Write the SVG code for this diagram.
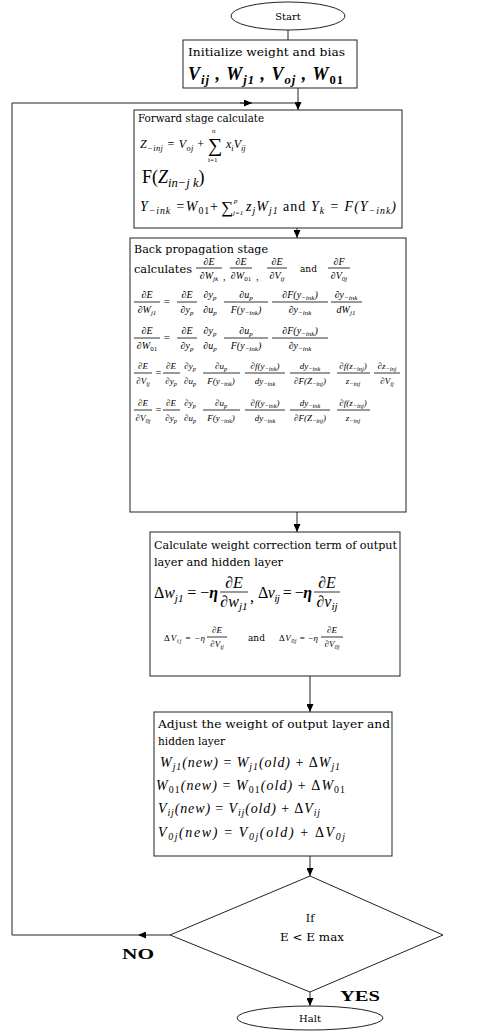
<svg xmlns="http://www.w3.org/2000/svg" width="480" height="1032" viewBox="0 0 480 1032">
<style>
.box{fill:#fff;stroke:#222;stroke-width:1}
.c{stroke:#222;stroke-width:1;fill:none}
.l{font-family:"DejaVu Serif","Liberation Serif",serif;font-size:11px;fill:#000}
.m{font-family:"Liberation Serif","Times New Roman",serif;font-style:italic;font-weight:normal;fill:#000}
.u{font-family:"Liberation Serif","Times New Roman",serif;fill:#000}
.s{font-size:70%}
.mc{text-anchor:middle}
.bar{stroke:#000;stroke-width:0.8}
.f10{font-size:10px}
.f9{font-size:9px}
.lab{font-family:"Liberation Serif","Times New Roman",serif;font-weight:bold;font-size:14px;fill:#000}
</style>
<defs>
<marker id="ah" viewBox="0 0 8 7" markerWidth="8" markerHeight="7" refX="8" refY="3.5" orient="auto" markerUnits="userSpaceOnUse">
<path d="M0,0 L8,3.5 L0,7 z" fill="#000"/>
</marker>
</defs>

<g id="connectors">
<line class="c" x1="288" y1="30" x2="288" y2="40"/>
<line class="c" x1="298" y1="88" x2="298" y2="110" marker-end="url(#ah)"/>
<line class="c" x1="297" y1="228" x2="297" y2="238" marker-end="url(#ah)"/>
<line class="c" x1="297" y1="512" x2="297" y2="532" marker-end="url(#ah)"/>
<line class="c" x1="310" y1="676" x2="310" y2="712" marker-end="url(#ah)"/>
<line class="c" x1="310" y1="856" x2="310" y2="876" marker-end="url(#ah)"/>
<line class="c" x1="310" y1="992" x2="310" y2="1006" marker-end="url(#ah)"/>
<line class="c" x1="170" y1="935" x2="138" y2="935" marker-end="url(#ah)"/>
<polyline class="c" points="138,935 12,935 12,103 252,103"/>
<line class="c" x1="240" y1="103" x2="252" y2="103" marker-end="url(#ah)"/>
<line class="c" x1="252" y1="103" x2="298" y2="103"/>
</g>

<g id="start">
<ellipse class="box" cx="288" cy="16" rx="57" ry="14"/>
<text class="l mc f10" x="288" y="20">Start</text>
</g>

<g id="init">
<rect class="box" x="183" y="40" width="174" height="48"/>
<text class="l" x="188" y="56" textLength="157" lengthAdjust="spacingAndGlyphs">Initialize weight and bias</text>
<text class="m" x="188" y="80" font-size="18" style="font-weight:bold" textLength="155" lengthAdjust="spacing">V<tspan class="s" dy="4">ij</tspan><tspan dy="-4"> , W</tspan><tspan class="s" dy="4">j1</tspan><tspan dy="-4"> , V</tspan><tspan class="s" dy="4">oj</tspan><tspan dy="-4"> , W</tspan><tspan class="s" dy="4" font-style="normal">01</tspan></text>
</g>

<g id="forward">
<rect class="box" x="134" y="110" width="268" height="118"/>
<text class="l" x="138" y="122" textLength="126" lengthAdjust="spacingAndGlyphs">Forward stage calculate</text>
<text class="m" x="140" y="148" font-size="12" textLength="64" lengthAdjust="spacing">Z<tspan class="s" dy="3">−inj</tspan><tspan dy="-3"> = V</tspan><tspan class="s" dy="3">oj</tspan><tspan dy="-3" font-style="normal"> +</tspan></text>
<text class="u" x="208" y="152" font-size="20">∑</text>
<text class="m" x="212" y="133" font-size="7">n</text>
<text class="u" x="208" y="162" font-size="7">i=1</text>
<text class="m" x="226" y="148" font-size="12">x<tspan class="s" dy="3">i</tspan><tspan dy="-3">V</tspan><tspan class="s" dy="3">ij</tspan></text>
<text class="m" x="142" y="183" font-size="18"><tspan font-style="normal">F(</tspan>Z<tspan class="s" dy="4">in−j k</tspan><tspan dy="-4" font-style="normal">)</tspan></text>
<text class="m" x="140" y="211" font-size="14" textLength="78" lengthAdjust="spacing">Y<tspan class="s" dy="3">−ink</tspan><tspan dy="-3"> =W</tspan><tspan class="s" dy="3" font-style="normal">01</tspan><tspan dy="-3" font-style="normal">+</tspan></text>
<text class="u" x="221" y="213" font-size="17">∑</text>
<text class="m" x="234" y="203" font-size="7">p</text>
<text class="m" x="233" y="215" font-size="7">j=1</text>
<text class="m" x="246" y="211" font-size="14" textLength="150" lengthAdjust="spacing">z<tspan class="s" dy="3">j</tspan><tspan dy="-3">W</tspan><tspan class="s" dy="3">j1</tspan><tspan dy="-3" font-style="normal"> and </tspan>Y<tspan class="s" dy="3">k</tspan><tspan dy="-3"> = F(Y</tspan><tspan class="s" dy="3">−ink</tspan><tspan dy="-3">)</tspan></text>
</g>

<g id="backprop">
<rect class="box" x="130" y="238" width="276" height="274"/>
<text class="l" x="134" y="253" textLength="134" lengthAdjust="spacingAndGlyphs">Back propagation stage</text>
<text class="l" x="134" y="273" textLength="58" lengthAdjust="spacingAndGlyphs">calculates</text>
<g class="m f10">
<text class="mc" x="209" y="265">∂E</text><line class="bar" x1="196" y1="268" x2="222" y2="268"/><text class="mc" x="209" y="279">∂W<tspan class="s" dy="2">jk</tspan></text>
<text x="223" y="280">,</text>
<text class="mc" x="241" y="265">∂E</text><line class="bar" x1="230" y1="268" x2="252" y2="268"/><text class="mc" x="241" y="279">∂W<tspan class="s" dy="2" font-style="normal">01</tspan></text>
<text x="256" y="280">,</text>
<text class="mc" x="277" y="265">∂E</text><line class="bar" x1="267" y1="268" x2="287" y2="268"/><text class="mc" x="277" y="279">∂V<tspan class="s" dy="2">ij</tspan></text>
<text class="mc" x="339" y="265">∂F</text><line class="bar" x1="328" y1="268" x2="350" y2="268"/><text class="mc" x="339" y="279">∂V<tspan class="s" dy="2">0j</tspan></text>
</g>
<text class="l f9" x="300" y="272">and</text>

<g class="m f10">
<text class="mc" x="147" y="298">∂E</text><line class="bar" x1="134" y1="302" x2="160" y2="302"/><text class="mc" x="147" y="313">∂W<tspan class="s" dy="2">j1</tspan></text>
<text class="u" x="163" y="305" font-size="11">=</text>
<text class="mc" x="187" y="298">∂E</text><line class="bar" x1="177" y1="302" x2="197" y2="302"/><text class="mc" x="187" y="313">∂y<tspan class="s" dy="2">p</tspan></text>
<text class="mc" x="210" y="298">∂y<tspan class="s" dy="2">p</tspan></text><text class="mc" x="210" y="313">∂u<tspan class="s" dy="2">p</tspan></text>
<text class="mc" x="246" y="298">∂u<tspan class="s" dy="2">p</tspan></text><line class="bar" x1="224" y1="302" x2="268" y2="302"/><text class="mc" x="246" y="313">F(y<tspan class="s" dy="2">−ink</tspan><tspan dy="-2">)</tspan></text>
<text class="mc" x="300" y="298">∂F(y<tspan class="s" dy="2">−ink</tspan><tspan dy="-2">)</tspan></text><line class="bar" x1="272" y1="302" x2="328" y2="302"/><text class="mc" x="300" y="313">∂y<tspan class="s" dy="2">−ink</tspan></text>
<text class="mc" x="346" y="298">∂y<tspan class="s" dy="2">−ink</tspan></text><line class="bar" x1="331" y1="302" x2="362" y2="302"/><text class="mc" x="346" y="313">dW<tspan class="s" dy="2">j1</tspan></text>
</g>

<g class="m f10">
<text class="mc" x="147" y="334">∂E</text><line class="bar" x1="134" y1="338" x2="160" y2="338"/><text class="mc" x="147" y="349">∂W<tspan class="s" dy="2" font-style="normal">01</tspan></text>
<text class="u" x="163" y="341" font-size="11">=</text>
<text class="mc" x="187" y="334">∂E</text><line class="bar" x1="177" y1="338" x2="197" y2="338"/><text class="mc" x="187" y="349">∂y<tspan class="s" dy="2">p</tspan></text>
<text class="mc" x="210" y="334">∂y<tspan class="s" dy="2">p</tspan></text><text class="mc" x="210" y="349">∂u<tspan class="s" dy="2">p</tspan></text>
<text class="mc" x="246" y="334">∂u<tspan class="s" dy="2">p</tspan></text><line class="bar" x1="224" y1="338" x2="268" y2="338"/><text class="mc" x="246" y="349">F(y<tspan class="s" dy="2">−ink</tspan><tspan dy="-2">)</tspan></text>
<text class="mc" x="300" y="334">∂F(y<tspan class="s" dy="2">−ink</tspan><tspan dy="-2">)</tspan></text><line class="bar" x1="272" y1="338" x2="328" y2="338"/><text class="mc" x="300" y="349">∂y<tspan class="s" dy="2">−ink</tspan></text>
</g>

<g class="m f9">
<text class="mc" x="143" y="369">∂E</text><line class="bar" x1="134" y1="373" x2="152" y2="373"/><text class="mc" x="143" y="384">∂V<tspan class="s" dy="2">ij</tspan></text>
<text class="u" x="155" y="376" font-size="10">=</text>
<text class="mc" x="171" y="369">∂E</text><line class="bar" x1="163" y1="373" x2="180" y2="373"/><text class="mc" x="171" y="384">∂y<tspan class="s" dy="2">p</tspan></text>
<text class="mc" x="190" y="369">∂y<tspan class="s" dy="2">p</tspan></text><text class="mc" x="190" y="384">∂u<tspan class="s" dy="2">p</tspan></text>
<text class="mc" x="221" y="369">∂u<tspan class="s" dy="2">p</tspan></text><line class="bar" x1="203" y1="373" x2="240" y2="373"/><text class="mc" x="221" y="384">F(y<tspan class="s" dy="2">−ink</tspan><tspan dy="-2">)</tspan></text>
<text class="mc" x="265" y="369">∂f(y<tspan class="s" dy="2">−ink</tspan><tspan dy="-2">)</tspan></text><line class="bar" x1="245" y1="373" x2="285" y2="373"/><text class="mc" x="265" y="384">dy<tspan class="s" dy="2">−ink</tspan></text>
<text class="mc" x="310" y="369">dy<tspan class="s" dy="2">−ink</tspan></text><line class="bar" x1="290" y1="373" x2="330" y2="373"/><text class="mc" x="310" y="384">∂F(Z<tspan class="s" dy="2">−inj</tspan><tspan dy="-2">)</tspan></text>
<text class="mc" x="353" y="369">∂f(z<tspan class="s" dy="2">−inj</tspan><tspan dy="-2">)</tspan></text><line class="bar" x1="337" y1="373" x2="370" y2="373"/><text class="mc" x="353" y="384">z<tspan class="s" dy="2">−inj</tspan></text>
<text class="mc" x="387" y="369">∂z<tspan class="s" dy="2">−inj</tspan></text><line class="bar" x1="374" y1="373" x2="400" y2="373"/><text class="mc" x="387" y="384">∂V<tspan class="s" dy="2">ij</tspan></text>
</g>

<g class="m f9">
<text class="mc" x="143" y="406">∂E</text><line class="bar" x1="134" y1="410" x2="152" y2="410"/><text class="mc" x="143" y="421">∂V<tspan class="s" dy="2">0j</tspan></text>
<text class="u" x="155" y="413" font-size="10">=</text>
<text class="mc" x="171" y="406">∂E</text><line class="bar" x1="163" y1="410" x2="180" y2="410"/><text class="mc" x="171" y="421">∂y<tspan class="s" dy="2">p</tspan></text>
<text class="mc" x="190" y="406">∂y<tspan class="s" dy="2">p</tspan></text><text class="mc" x="190" y="421">∂u<tspan class="s" dy="2">p</tspan></text>
<text class="mc" x="221" y="406">∂u<tspan class="s" dy="2">p</tspan></text><line class="bar" x1="203" y1="410" x2="240" y2="410"/><text class="mc" x="221" y="421">F(y<tspan class="s" dy="2">−ink</tspan><tspan dy="-2">)</tspan></text>
<text class="mc" x="265" y="406">∂f(y<tspan class="s" dy="2">−ink</tspan><tspan dy="-2">)</tspan></text><line class="bar" x1="245" y1="410" x2="285" y2="410"/><text class="mc" x="265" y="421">dy<tspan class="s" dy="2">−ink</tspan></text>
<text class="mc" x="310" y="406">dy<tspan class="s" dy="2">−ink</tspan></text><line class="bar" x1="290" y1="410" x2="330" y2="410"/><text class="mc" x="310" y="421">∂F(Z<tspan class="s" dy="2">−inj</tspan><tspan dy="-2">)</tspan></text>
<text class="mc" x="353" y="406">∂f(z<tspan class="s" dy="2">−inj</tspan><tspan dy="-2">)</tspan></text><line class="bar" x1="337" y1="410" x2="370" y2="410"/><text class="mc" x="353" y="421">z<tspan class="s" dy="2">−inj</tspan></text>
</g>
</g>

<g id="calculate">
<rect class="box" x="150" y="532" width="250" height="144"/>
<text class="l" x="154" y="549" textLength="243" lengthAdjust="spacingAndGlyphs">Calculate weight correction term of output</text>
<text class="l" x="154" y="566" textLength="129" lengthAdjust="spacingAndGlyphs">layer and hidden layer</text>
<g class="m" font-size="16">
<text x="154" y="598" textLength="64" lengthAdjust="spacing"><tspan font-style="normal">Δ</tspan>w<tspan class="s" dy="4">j1</tspan><tspan dy="-4" font-style="normal"> = −</tspan><tspan style="font-weight:bold">η</tspan></text>
<text class="mc" x="234" y="588">∂E</text><line class="bar" x1="220" y1="592" x2="248" y2="592"/><text class="mc" x="234" y="607">∂w<tspan class="s" dy="3">j1</tspan></text>
<text x="250" y="602">,</text>
<text x="258" y="598" textLength="54" lengthAdjust="spacing"><tspan font-style="normal">Δ</tspan>v<tspan class="s" dy="4">ij</tspan><tspan dy="-4" font-style="normal"> = −</tspan><tspan style="font-weight:bold">η</tspan></text>
<text class="mc" x="327" y="588">∂E</text><line class="bar" x1="314" y1="592" x2="340" y2="592"/><text class="mc" x="327" y="607">∂v<tspan class="s" dy="3">ij</tspan></text>
</g>
<g class="m f9">
<text x="164" y="641" textLength="41" lengthAdjust="spacing"><tspan font-style="normal">Δ</tspan>V<tspan class="s" dy="2">ij</tspan><tspan dy="-2" font-style="normal"> = −</tspan>η</text>
<text class="mc" x="217" y="633">∂E</text><line class="bar" x1="207" y1="637" x2="227" y2="637"/><text class="mc" x="217" y="647">∂V<tspan class="s" dy="2">ij</tspan></text>
<text x="279" y="641" textLength="39" lengthAdjust="spacing"><tspan font-style="normal">Δ</tspan>V<tspan class="s" dy="2">0j</tspan><tspan dy="-2" font-style="normal"> = −</tspan>η</text>
<text class="mc" x="332" y="633">∂E</text><line class="bar" x1="321" y1="637" x2="343" y2="637"/><text class="mc" x="332" y="647">∂V<tspan class="s" dy="2">0j</tspan></text>
</g>
<text class="l f9" x="248" y="641">and</text>
</g>

<g id="adjust">
<rect class="box" x="154" y="712" width="238" height="144"/>
<text class="l" x="158" y="728" textLength="232" lengthAdjust="spacingAndGlyphs">Adjust the weight of output layer and</text>
<text class="l" x="158" y="745" textLength="67" lengthAdjust="spacingAndGlyphs">hidden layer</text>
<g class="m" font-size="14">
<text x="160" y="767" textLength="180" lengthAdjust="spacing">W<tspan class="s" dy="3">j1</tspan><tspan dy="-3">(new) </tspan><tspan font-style="normal">= </tspan>W<tspan class="s" dy="3">j1</tspan><tspan dy="-3">(old) </tspan><tspan font-style="normal">+ Δ</tspan>W<tspan class="s" dy="3">j1</tspan></text>
<text x="156" y="790" textLength="189" lengthAdjust="spacing">W<tspan class="s" dy="3" font-style="normal">01</tspan><tspan dy="-3">(new) </tspan><tspan font-style="normal">= </tspan>W<tspan class="s" dy="3" font-style="normal">01</tspan><tspan dy="-3">(old) </tspan><tspan font-style="normal">+ Δ</tspan>W<tspan class="s" dy="3" font-style="normal">01</tspan></text>
<text x="158" y="813" textLength="162" lengthAdjust="spacing">V<tspan class="s" dy="3">ij</tspan><tspan dy="-3">(new) </tspan><tspan font-style="normal">= </tspan>V<tspan class="s" dy="3">ij</tspan><tspan dy="-3">(old) </tspan><tspan font-style="normal">+ Δ</tspan>V<tspan class="s" dy="3">ij</tspan></text>
<text x="158" y="837" textLength="187" lengthAdjust="spacing">V<tspan class="s" dy="3">0j</tspan><tspan dy="-3">(new) </tspan><tspan font-style="normal">= </tspan>V<tspan class="s" dy="3">0j</tspan><tspan dy="-3">(old) </tspan><tspan font-style="normal">+ Δ</tspan>V<tspan class="s" dy="3">0j</tspan></text>
</g>
</g>

<g id="decision">
<polygon class="box" points="310,876 443,935 310,992 170,935"/>
<text class="l mc" x="310" y="922">If</text>
<text class="l mc" x="312" y="941" textLength="64" lengthAdjust="spacingAndGlyphs">E &lt; E max</text>
</g>

<g id="labels">
<text class="lab" x="122" y="959" textLength="32" lengthAdjust="spacingAndGlyphs">NO</text>
<text class="lab" x="340" y="1001" textLength="40" lengthAdjust="spacingAndGlyphs">YES</text>
</g>

<g id="halt">
<ellipse class="box" cx="310" cy="1018" rx="73" ry="12"/>
<text class="l mc f10" x="310" y="1022">Halt</text>
</g>
</svg>
